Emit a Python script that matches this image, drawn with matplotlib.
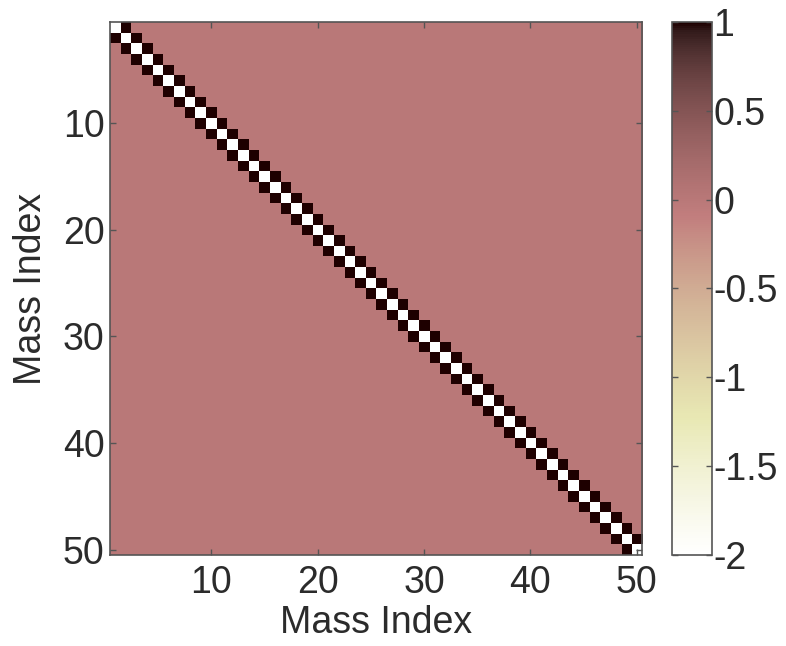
import numpy as np
import matplotlib
matplotlib.use('Agg')
import matplotlib.pyplot as plt

# tridiagonal mass matrix: -2 on the diagonal, 1 next to it
n = 50
diag_val = -2
off_val = 1
ticks = [10, 20, 30, 40, 50]
cbar_ticks = [1, 0.5, 0, -0.5, -1, -1.5, -2]
cbar_labels = ['1', '0.5', '0', '-0.5', '-1', '-1.5', '-2']

M = np.zeros((n, n))
M += diag_val * np.eye(n)
M += off_val * np.eye(n, k=1)
M += off_val * np.eye(n, k=-1)

plt.rcParams['font.family'] = ['Liberation Sans', 'DejaVu Sans']
txt = '#2b2b2b'
fs = 27

fig = plt.figure(figsize=(7.86, 6.46), dpi=100)
ax = fig.add_axes([0.140, 0.141, 0.677, 0.825])
cax = fig.add_axes([0.855, 0.141, 0.051, 0.825])

im = ax.imshow(M, cmap='pink_r', vmin=-2, vmax=1, interpolation='nearest',
               extent=(0.5, n + 0.5, n + 0.5, 0.5), aspect='auto')
ax.set_xticks(ticks)
ax.set_yticks(ticks)
ax.tick_params(direction='in', length=4, width=1, color='#555555',
               labelsize=fs, labelcolor=txt, top=True, right=True)
ax.tick_params(axis='x', pad=7)
ax.tick_params(axis='y', pad=4)
ax.set_xlabel('Mass Index', fontsize=fs, color=txt, labelpad=3)
ax.set_ylabel('Mass Index', fontsize=fs, color=txt, labelpad=10)
for s in ax.spines.values():
    s.set_color('#555555')
    s.set_linewidth(1.2)

cb = fig.colorbar(im, cax=cax, ticks=cbar_ticks)
cb.ax.set_yticklabels(cbar_labels)
cb.ax.tick_params(direction='in', length=4, width=1, color='#555555',
                  labelsize=fs, labelcolor=txt, left=True, right=True, pad=1)
cb.outline.set_edgecolor('#555555')
cb.outline.set_linewidth(1.2)

fig.savefig('out.png', dpi=100)
